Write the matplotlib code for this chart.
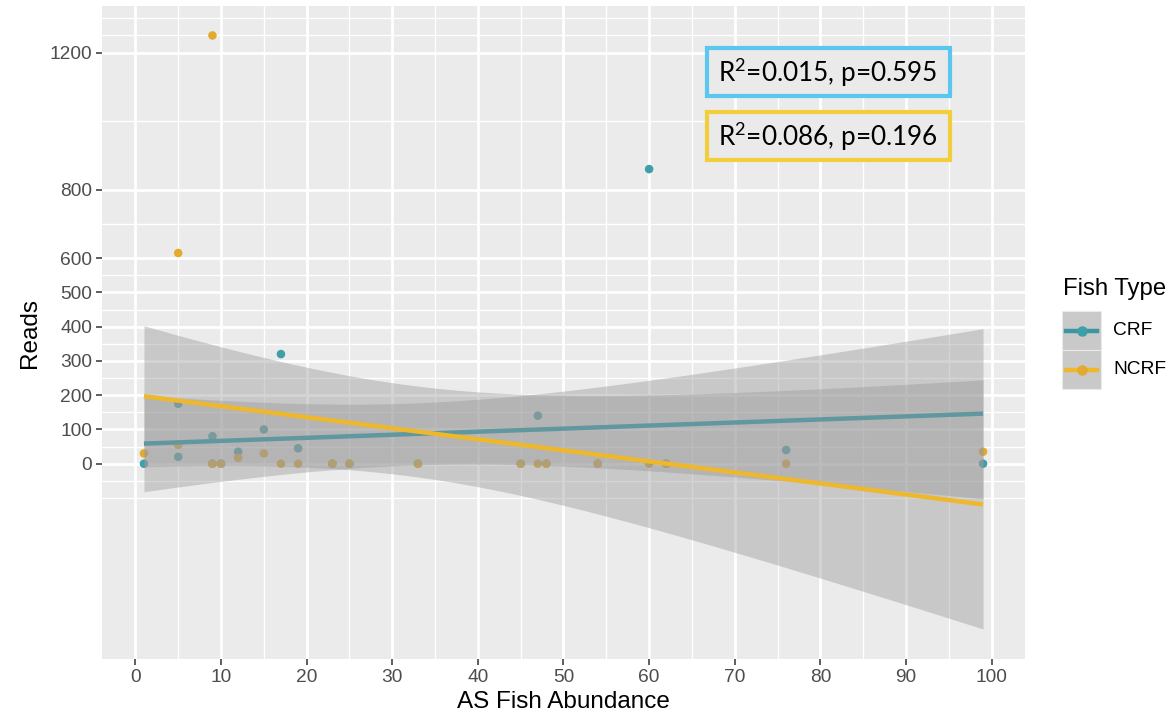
import numpy as np
import matplotlib
matplotlib.use("Agg")
import matplotlib.pyplot as plt
from matplotlib.patches import Rectangle
from matplotlib.lines import Line2D

# ---------------- data ----------------
abundance = [1, 5, 5, 9, 9, 10, 12, 15, 17, 19, 23, 25, 33, 45, 47, 48, 54, 60, 62, 76, 99]
crf_reads = [0, 175, 20, 80, 0, 0, 35, 100, 320, 45, 0, 0, 0, 0, 140, 0, 0, 860, 0, 40, 0]
ncrf_reads = [30, 55, 615, 1250, 0, 0, 17, 30, 0, 0, 0, 0, 0, 0, 0, 0, 0, 0, 0, 0, 35]
groups = ["CRF", "NCRF"]
annotations = ["R$^{2}$=0.015, p=0.595", "R$^{2}$=0.086, p=0.196"]
x_ticks = [0, 10, 20, 30, 40, 50, 60, 70, 80, 90, 100]
y_ticks = [0, 100, 200, 300, 400, 500, 600, 800, 1200]
y_minor = [-100, -50, 50, 150, 250, 350, 450, 550, 700, 1000, 1250, 1300]
x_minor = [5, 15, 25, 35, 45, 55, 65, 75, 85, 95]

pt_colors = {"CRF": "#3E9EAA", "NCRF": "#E2AA2E"}
ln_colors = {"CRF": "#3A97A2", "NCRF": "#EDB82C"}
box_colors = ["#5BC6EE", "#F2CD3C"]
T_CRIT = 2.093  # t(0.975, df=19)

plt.rcParams["font.family"] = ["Liberation Sans", "DejaVu Sans"]
plt.rcParams["mathtext.fontset"] = "custom"
plt.rcParams["mathtext.rm"] = "Lato"
plt.rcParams["mathtext.it"] = "Lato"

W, H = 1174, 720
fig = plt.figure(figsize=(W / 100, H / 100), dpi=100)
ax = fig.add_axes([102 / W, 1 - 659 / H, (1025 - 102) / W, (659 - 6) / H])
ax.set_facecolor("#EBEBEB")
for s in ax.spines.values():
    s.set_visible(False)

ax.set_xlim(-3.9, 103.9)
ax.set_ylim(-570, 1336)

# gridlines
for v in x_minor:
    ax.axvline(v, color="white", lw=1.0, zorder=0.5)
for v in y_minor:
    ax.axhline(v, color="white", lw=1.0, zorder=0.5)
for v in x_ticks:
    ax.axvline(v, color="white", lw=2.0, zorder=0.6)
for v in y_ticks:
    ax.axhline(v, color="white", lw=2.0, zorder=0.6)

x = np.array(abundance, dtype=float)
series = {"CRF": np.array(crf_reads, float), "NCRF": np.array(ncrf_reads, float)}

# points
for g in groups:
    ax.scatter(x, series[g], s=38, color=pt_colors[g], edgecolor="none", zorder=2)

# smooths (lm with 95% CI)
xs = np.linspace(x.min(), x.max(), 80)
z = 3
for g in groups:
    y = series[g]
    b, a = np.polyfit(x, y, 1)
    fit = a + b * xs
    n = len(x)
    resid = y - (a + b * x)
    s = np.sqrt(np.sum(resid ** 2) / (n - 2))
    sxx = np.sum((x - x.mean()) ** 2)
    se = s * np.sqrt(1 / n + (xs - x.mean()) ** 2 / sxx)
    ax.fill_between(xs, fit - T_CRIT * se, fit + T_CRIT * se, color="#999999",
                    alpha=0.42, lw=0, zorder=z)
    ax.plot(xs, fit, color=ln_colors[g], lw=3.2, zorder=z + 0.5, solid_capstyle="butt")
    z += 1

ax.set_xticks(x_ticks)
ax.set_xticklabels([str(v) for v in x_ticks])
ax.set_yticks(y_ticks)
ax.set_yticklabels([str(v) for v in y_ticks])
ax.tick_params(axis="both", length=4, width=1.1, color="#333333",
               labelcolor="#4D4D4D", labelsize=13.8, pad=3)
ax.set_xlabel("AS Fish Abundance", fontsize=17.5, color="black", labelpad=4)
ax.set_ylabel("Reads", fontsize=17.5, color="black", labelpad=6)

# annotation boxes
box_tops = [48, 112]
for i, (txt, col) in enumerate(zip(annotations, box_colors)):
    top = box_tops[i]
    rect = Rectangle((707 / W, 1 - (top + 48) / H), 243 / W, 48 / H,
                     transform=fig.transFigure, facecolor="#EAEAEA",
                     edgecolor=col, lw=3.0, zorder=10)
    fig.add_artist(rect)
    fig.text(828 / W, 1 - (top + 25) / H, txt, ha="center", va="center",
             fontsize=18.8, family="Lato", color="black", zorder=11)

# legend (manual, ggplot-like)
fig.text(1063 / W, 1 - 289 / H, "Fish Type", fontsize=17.2, ha="left", va="center",
         color="black")
key_top = [311, 350]
for i, g in enumerate(groups):
    t = key_top[i]
    fig.add_artist(Rectangle((1062 / W, 1 - (t + 39) / H), 39 / W, 39 / H,
                             transform=fig.transFigure, facecolor="#C9C9C9",
                             edgecolor="#EBEBEB", lw=0.8))
    cy = 1 - (t + 20) / H
    fig.add_artist(Line2D([1066 / W, 1097 / W], [cy, cy], transform=fig.transFigure,
                          color=ln_colors[g], lw=3.2))
    fig.add_artist(Line2D([1081.5 / W], [cy], transform=fig.transFigure,
                          marker="o", markersize=6.5, color=pt_colors[g], lw=0))
    fig.text(1113 / W, cy, g, fontsize=13.8, ha="left", va="center", color="black")

fig.savefig("out.png", dpi=100)
